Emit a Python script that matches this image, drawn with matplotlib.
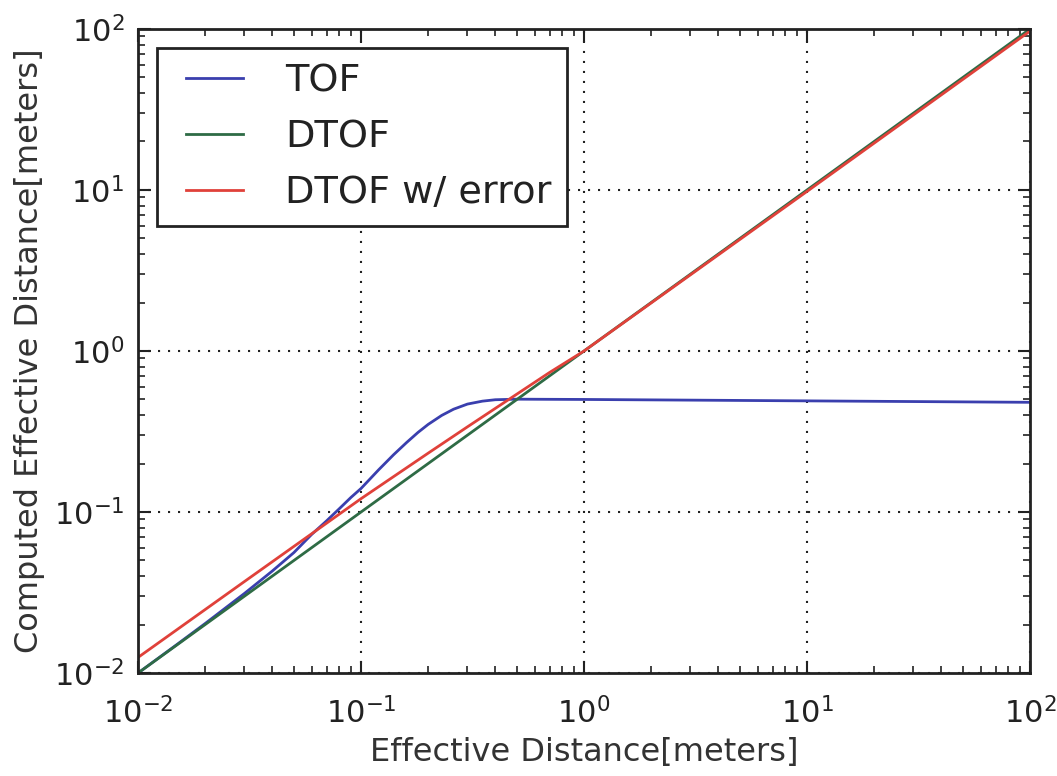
import matplotlib
matplotlib.use("Agg")
import matplotlib.pyplot as plt
from matplotlib.ticker import LogLocator, NullFormatter
from matplotlib.legend_handler import HandlerLine2D

# Data
tof_x = [0.01, 0.015, 0.02, 0.03, 0.04, 0.05, 0.06, 0.07, 0.08, 0.09, 0.10,
         0.12, 0.14, 0.16, 0.18, 0.20, 0.23, 0.26, 0.30, 0.35, 0.40, 0.50,
         0.70, 1.0, 10.0, 100.0]
tof_y = [0.0100, 0.0151, 0.0203, 0.0312, 0.0430, 0.0560, 0.0725, 0.0880, 0.1050,
         0.1230, 0.1400, 0.1830, 0.2270, 0.2700, 0.3120, 0.3500, 0.3980, 0.4350,
         0.4680, 0.4880, 0.4980, 0.5020, 0.5010, 0.5000, 0.4900, 0.4800]

dtof_x = [0.01, 100.0]
dtof_y = [0.01, 100.0]

err_x = [0.01, 0.03, 0.1, 0.2, 0.3, 0.5, 0.7, 1.0, 10.0, 100.0]
err_y = [0.0125, 0.037, 0.121, 0.232, 0.338, 0.54, 0.735, 1.0, 9.8, 97.0]

labels = ["TOF", "DTOF", "DTOF w/ error"]
colors = ["#3a3fae", "#2e6b45", "#e0413a"]

plt.rcParams['font.family'] = ['DejaVu Sans']
plt.rcParams['axes.unicode_minus'] = False

fig = plt.figure(figsize=(10.57, 7.76), dpi=100)
ax = fig.add_axes([0.1306, 0.1327, 0.8439, 0.830])

lw = 2.0
ax.plot(tof_x, tof_y, color=colors[0], lw=lw, label=labels[0])
ax.plot(dtof_x, dtof_y, color=colors[1], lw=lw, label=labels[1])
ax.plot(err_x, err_y, color=colors[2], lw=lw, label=labels[2])

ax.set_xscale('log')
ax.set_yscale('log')
ax.set_xlim(1e-2, 1e2)
ax.set_ylim(1e-2, 1e2)

for axis in (ax.xaxis, ax.yaxis):
    axis.set_major_locator(LogLocator(base=10, numticks=10))
    axis.set_minor_locator(LogLocator(base=10, subs=range(2, 10), numticks=100))
    axis.set_minor_formatter(NullFormatter())

ax.tick_params(which='both', direction='in', top=True, right=True, color='#222222')
ax.tick_params(which='major', length=9, width=1.5, labelsize=22, labelcolor='#222222')
ax.tick_params(axis='x', which='major', pad=17)
ax.tick_params(axis='y', which='major', pad=10)
ax.tick_params(which='minor', length=5, width=1.2)

ax.grid(True, which='major', linestyle=(0, (1, 3.8)), color='#222222', linewidth=1.5)

for sp in ax.spines.values():
    sp.set_linewidth(2.0)
    sp.set_color('#222222')

ax.set_xlabel("Effective Distance[meters]", fontsize=23, color='#333333', labelpad=6)
ax.set_ylabel("Computed Effective Distance[meters]", fontsize=23, color='#333333', labelpad=6)

leg = ax.legend(loc='upper left', fontsize=27.5, frameon=True, fancybox=False,
                edgecolor='#222222', framealpha=1, borderaxespad=0.5,
                handlelength=2.2, handletextpad=0.75, borderpad=0.4,
                labelspacing=0.52, numpoints=2,
                handler_map={plt.Line2D: HandlerLine2D(marker_pad=0.35)})
leg.get_frame().set_linewidth(2.0)
for t in leg.get_texts():
    t.set_color('#222222')

fig.savefig("out.png", dpi=100)
